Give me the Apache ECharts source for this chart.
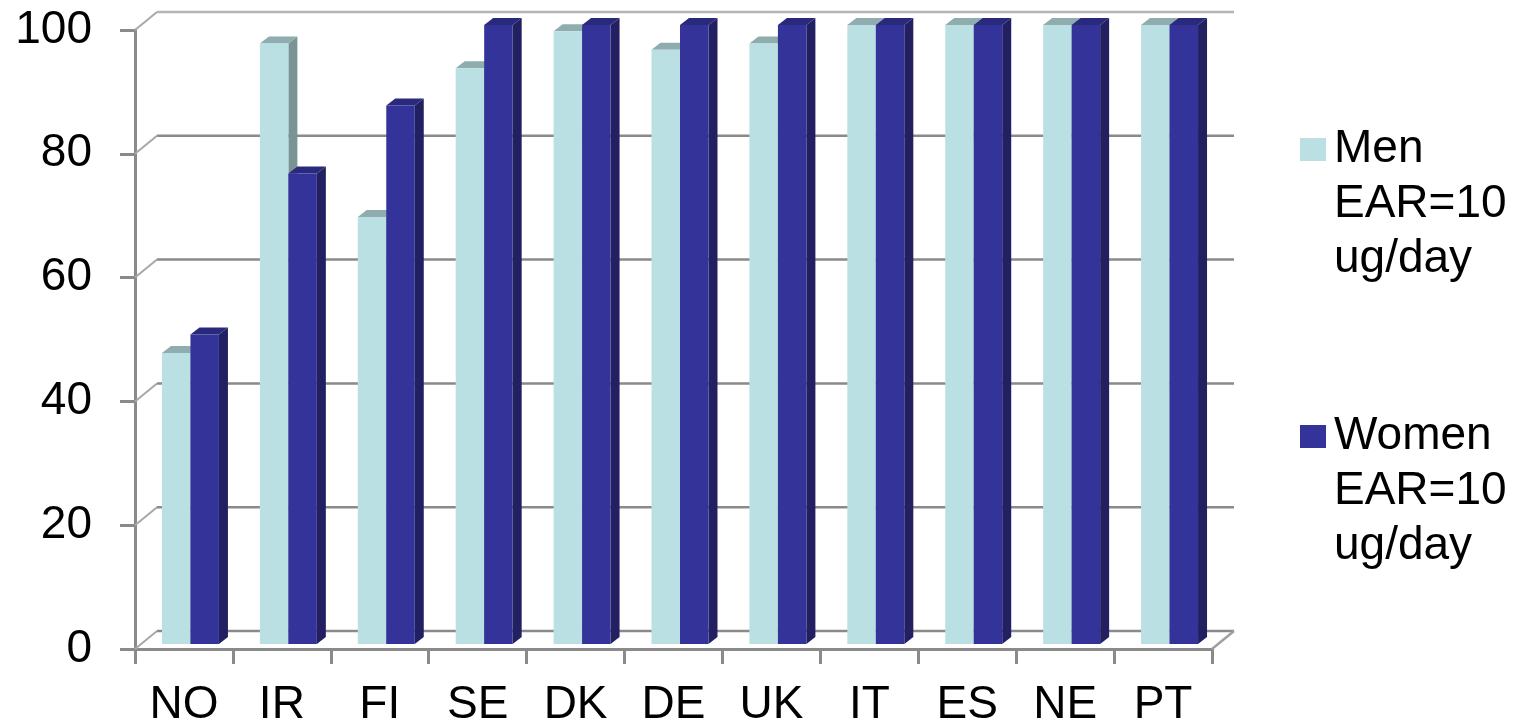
<!DOCTYPE html>
<html>
<head>
<meta charset="utf-8">
<script src="https://cdn.jsdelivr.net/npm/echarts@6/dist/echarts.min.js"></script>
<style>
  html, body { margin: 0; padding: 0; background: #ffffff; }
  #chart { width: 1518px; height: 728px; }
</style>
</head>
<body>
<div id="chart"></div>
<script>
// Share (%) meeting the vitamin D EAR of 10 ug/day, by country and sex
const countries = ['NO', 'IR', 'FI', 'SE', 'DK', 'DE', 'UK', 'IT', 'ES', 'NE', 'PT'];
const menValues = [47, 97, 69, 93, 99, 96, 97, 100, 100, 100, 100];
const womenValues = [50, 76, 87, 100, 100, 100, 100, 100, 100, 100, 100];
const yTicks = [0, 20, 40, 60, 80, 100];
const menName = 'Men\nEAR=10\nug/day';
const womenName = 'Women\nEAR=10\nug/day';

// Oblique projection: back wall, plane of the bars, and bar depth (pixels)
const WALL = [22, -18];
const BAR_PLANE = [6.5, -5];
const BAR_DEPTH = [9, -7];
const BAR_RATIO = 0.291; // one bar's width as a share of the category band

const FONT = 'Liberation Sans, Arial, sans-serif';
const AXIS_GRAY = '#8a8a8a';

const MEN_COLORS = { front: '#BAE0E3', top: '#8FACAE', side: '#7A9395' };
const WOMEN_COLORS = { front: '#333399', top: '#2A2A7C', side: '#232062' };

function wallRenderer(params, api) {
  const v = api.value(1);
  const y = api.coord([0, v])[1];
  const cs = params.coordSys;
  const x0 = cs.x, x1 = cs.x + cs.width;
  const children = [];
  const back = v === 100 ? '#b4b4b4' : AXIS_GRAY;
  children.push({
    type: 'line',
    shape: { x1: x0 + WALL[0], y1: y + WALL[1], x2: x1 + WALL[0], y2: y + WALL[1] },
    style: { stroke: back, lineWidth: 2.5 }
  });
  children.push({
    type: 'line',
    shape: { x1: x0, y1: y, x2: x0 + WALL[0], y2: y + WALL[1] },
    style: { stroke: '#a8a8a8', lineWidth: 2 }
  });
  if (v === 0) {
    children.push({
      type: 'line',
      shape: { x1: x1, y1: y, x2: x1 + WALL[0], y2: y + WALL[1] },
      style: { stroke: '#a0a0a0', lineWidth: 2.5 }
    });
  }
  return { type: 'group', children: children };
}

function barRenderer(isLeft, colors) {
  return function (params, api) {
    const i = api.value(0);
    const v = api.value(1);
    const base = api.coord([i, 0]);
    const top = api.coord([i, v]);
    const w = api.size([1, 0])[0] * BAR_RATIO;
    const cx = base[0] + BAR_PLANE[0];
    const x0 = isLeft ? cx - w : cx;
    const x1 = isLeft ? cx : cx + w;
    const yb = base[1] + BAR_PLANE[1];
    const yt = top[1] + BAR_PLANE[1];
    const dx = BAR_DEPTH[0], dy = BAR_DEPTH[1];
    return {
      type: 'group',
      children: [
        {
          type: 'polygon',
          shape: { points: [[x1, yt], [x1 + dx, yt + dy], [x1 + dx, yb + dy], [x1, yb]] },
          style: { fill: colors.side }
        },
        {
          type: 'polygon',
          shape: { points: [[x0, yt], [x1, yt], [x1 + dx, yt + dy], [x0 + dx, yt + dy]] },
          style: { fill: colors.top }
        },
        {
          type: 'rect',
          shape: { x: x0, y: yt, width: x1 - x0, height: yb - yt },
          style: { fill: colors.front }
        }
      ]
    };
  };
}

const chart = echarts.init(document.getElementById('chart'), null, { renderer: 'canvas' });

chart.setOption({
  backgroundColor: '#ffffff',
  animation: false,
  grid: { left: 135, right: 306, top: 30, bottom: 79, outerBoundsMode: 'none' },
  xAxis: {
    type: 'category',
    data: countries,
    axisLine: { show: true, lineStyle: { color: AXIS_GRAY, width: 3 } },
    axisTick: { show: true, length: 15, lineStyle: { color: AXIS_GRAY, width: 3 } },
    axisLabel: { fontSize: 46, fontFamily: FONT, color: '#000', margin: 33 },
    splitLine: { show: false }
  },
  yAxis: {
    type: 'value',
    min: 0,
    max: 100,
    interval: 20,
    axisLine: { show: true, lineStyle: { color: AXIS_GRAY, width: 3 } },
    axisTick: { show: true, length: 15, lineStyle: { color: AXIS_GRAY, width: 3 } },
    axisLabel: { fontSize: 46, fontFamily: FONT, color: '#000', margin: 43 },
    splitLine: { show: false }
  },
  legend: {
    orient: 'vertical',
    left: 1295,
    top: 117,
    itemWidth: 26,
    itemHeight: 165,
    itemGap: 122,
    selectedMode: false,
    icon: 'path://M0,0L0,0L0,0Z M0,16L26,16L26,39L0,39Z M0,165L0,165L0,165Z',
    textStyle: { fontSize: 46, lineHeight: 55, fontFamily: FONT, color: '#000', padding: [0, 0, 0, 3] },
    data: [menName, womenName]
  },
  series: [
    {
      type: 'custom',
      name: 'wall',
      z: 1,
      clip: false,
      silent: true,
      renderItem: wallRenderer,
      encode: { x: 0, y: 1 },
      data: yTicks.map(function (t) { return [0, t]; })
    },
    {
      type: 'custom',
      name: menName,
      z: 2,
      clip: false,
      itemStyle: { color: MEN_COLORS.front },
      renderItem: barRenderer(true, MEN_COLORS),
      encode: { x: 0, y: 1 },
      data: menValues.map(function (v, i) { return [i, v]; })
    },
    {
      type: 'custom',
      name: womenName,
      z: 3,
      clip: false,
      itemStyle: { color: WOMEN_COLORS.front },
      renderItem: barRenderer(false, WOMEN_COLORS),
      encode: { x: 0, y: 1 },
      data: womenValues.map(function (v, i) { return [i, v]; })
    }
  ]
});
</script>
</body>
</html>
